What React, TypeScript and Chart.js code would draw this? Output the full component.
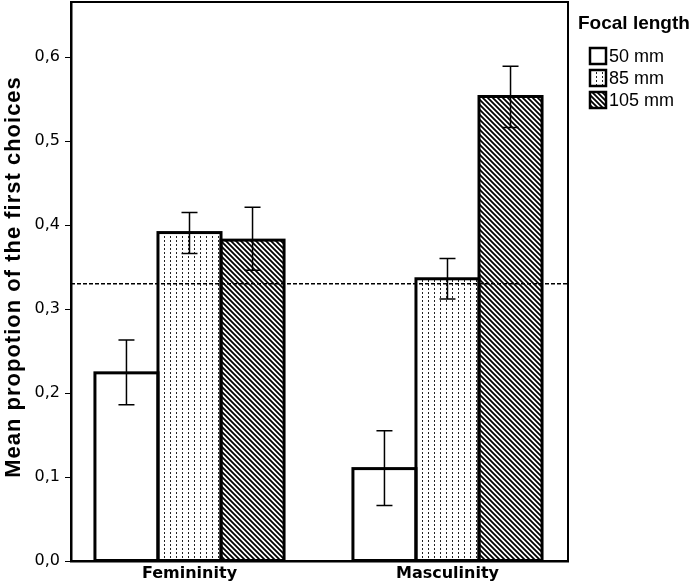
import React, { useEffect, useRef } from 'react';
import { Chart, registerables } from 'chart.js';

Chart.register(...registerables);

const categories = ['Femininity', 'Masculinity'];
const seriesNames = ['50 mm', '85 mm', '105 mm'];
const means50 = [0.224, 0.110];
const means85 = [0.391, 0.336];
const means105 = [0.382, 0.553];
const low50 = [0.186, 0.066];
const high50 = [0.263, 0.155];
const low85 = [0.366, 0.312];
const high85 = [0.415, 0.360];
const low105 = [0.346, 0.516];
const high105 = [0.421, 0.589];
const yTicks = [0, 0.1, 0.2, 0.3, 0.4, 0.5, 0.6];
const referenceLine = 0.33;
const yTitle = 'Mean propotion of the first choices';
const legendTitle = 'Focal length';

function makeDots(): CanvasPattern | string {
  const c = document.createElement('canvas');
  c.width = 6; c.height = 4;
  const g = c.getContext('2d');
  if (!g) return '#fff';
  g.fillStyle = '#fff'; g.fillRect(0, 0, 6, 4);
  g.fillStyle = '#222'; g.fillRect(2, 0, 1, 2);
  return g.createPattern(c, 'repeat') || '#fff';
}
function makeHatch(): CanvasPattern | string {
  const s = 5;
  const c = document.createElement('canvas');
  c.width = s; c.height = s;
  const g = c.getContext('2d');
  if (!g) return '#fff';
  g.fillStyle = '#fff'; g.fillRect(0, 0, s, s);
  g.strokeStyle = '#000'; g.lineWidth = 1.8;
  g.beginPath();
  g.moveTo(-1, -1); g.lineTo(s + 1, s + 1);
  g.moveTo(-1, s - 1); g.lineTo(1, s + 1);
  g.moveTo(s - 1, -1); g.lineTo(s + 1, 1);
  g.stroke();
  return g.createPattern(c, 'repeat') || '#fff';
}

export default function App() {
  const ref = useRef<HTMLCanvasElement>(null);
  useEffect(() => {
    document.body.style.margin = '0';
    const canvas = ref.current;
    if (!canvas) return;
    const fills = ['#ffffff', makeDots(), makeHatch()];
    const means = [means50, means85, means105];
    const lows = [low50, low85, low105];
    const highs = [high50, high85, high105];

    const overlay = {
      id: 'overlay',
      afterDatasetsDraw(chart: any) {
        const ctx = chart.ctx;
        const ys = chart.scales.y;
        const area = chart.chartArea;
        ctx.save();
        ctx.strokeStyle = '#000';
        ctx.lineWidth = 3;
        chart.data.datasets.forEach((_: any, i: number) => {
          const meta = chart.getDatasetMeta(i);
          meta.data.forEach((bar: any) => {
            const p = bar.getProps(['x', 'y', 'base', 'width'], true);
            ctx.strokeRect(p.x - p.width / 2, p.y, p.width, p.base - p.y);
          });
        });
        const yr = ys.getPixelForValue(referenceLine);
        ctx.lineWidth = 1.5;
        ctx.setLineDash([4, 2]);
        ctx.beginPath();
        ctx.moveTo(area.left, yr);
        ctx.lineTo(area.right, yr);
        ctx.stroke();
        ctx.setLineDash([]);
        ctx.lineWidth = 1.5;
        chart.data.datasets.forEach((_: any, i: number) => {
          const meta = chart.getDatasetMeta(i);
          meta.data.forEach((bar: any, j: number) => {
            const x = bar.x;
            const y1 = ys.getPixelForValue(lows[i][j]);
            const y2 = ys.getPixelForValue(highs[i][j]);
            ctx.beginPath();
            ctx.moveTo(x, y1); ctx.lineTo(x, y2);
            ctx.moveTo(x - 8, y1); ctx.lineTo(x + 8, y1);
            ctx.moveTo(x - 8, y2); ctx.lineTo(x + 8, y2);
            ctx.stroke();
          });
        });
        ctx.restore();
      },
      afterDraw(chart: any) {
        const ctx = chart.ctx;
        const area = chart.chartArea;
        ctx.save();
        ctx.strokeStyle = '#000';
        ctx.lineWidth = 2;
        ctx.beginPath();
        ctx.moveTo(area.left, area.top);
        ctx.lineTo(area.right, area.top);
        ctx.lineTo(area.right, area.bottom);
        ctx.stroke();
        // y axis title
        ctx.save();
        ctx.translate(14, 277);
        ctx.rotate(-Math.PI / 2);
        ctx.fillStyle = '#000';
        ctx.font = 'bold 22px "Liberation Sans"';
        (ctx as any).letterSpacing = '1px';
        ctx.textAlign = 'center';
        ctx.textBaseline = 'middle';
        ctx.fillText(yTitle, 0, 0);
        ctx.restore();
        // legend
        ctx.fillStyle = '#000';
        ctx.textBaseline = 'alphabetic';
        ctx.font = 'bold 19px "Liberation Sans"';
        ctx.fillText(legendTitle, 578, 29);
        ctx.font = '18px "Liberation Sans"';
        seriesNames.forEach((name, i) => {
          const cy = 56 + i * 22;
          ctx.fillStyle = fills[i] as any;
          ctx.fillRect(590, cy - 8, 16, 16);
          ctx.lineWidth = 2.5;
          ctx.strokeStyle = '#000';
          ctx.strokeRect(590, cy - 8, 16, 16);
          ctx.fillStyle = '#000';
          ctx.textBaseline = 'middle';
          ctx.fillText(name, 609, cy + 1);
        });
        ctx.restore();
      },
    };

    const chart = new Chart(canvas, {
      type: 'bar',
      data: {
        datasets: seriesNames.map((name, i) => ({
          label: name,
          data: categories.map((_, j) => ({ x: j, y: means[i][j] })),
          backgroundColor: fills[i] as any,
          borderWidth: 0,
          categoryPercentage: 0.733,
          barPercentage: 1,
        })),
      },
      options: {
        responsive: true,
        maintainAspectRatio: false,
        animation: false,
        layout: { padding: { left: 0, right: 126, top: 2, bottom: 0 } },
        plugins: { legend: { display: false }, tooltip: { enabled: false } },
        scales: {
          x: {
            type: 'linear',
            offset: false,
            min: -0.4593,
            max: 1.4671,
            afterBuildTicks: (s: any) => { s.ticks = categories.map((_, i) => ({ value: i })); },
            afterFit: (s: any) => { s.height = 23; s.paddingLeft = 0; s.paddingRight = 0; },
            grid: { display: false, drawTicks: false, offset: false },
            border: { display: true, color: '#000', width: 2.5 },
            ticks: {
              autoSkip: false,
              maxRotation: 0,
              padding: 3,
              color: '#000',
              font: { family: '"DejaVu Sans"', weight: 'bold', size: 16 },
              callback: (v: any) => categories[Math.round(Number(v))] ?? '',
            },
          },
          y: {
            min: 0,
            max: 0.6655,
            afterBuildTicks: (s: any) => { s.ticks = yTicks.map((v) => ({ value: v })); },
            afterFit: (s: any) => { s.width = 71; s.paddingTop = 0; s.paddingBottom = 0; },
            grid: { display: true, drawOnChartArea: false, drawTicks: true, tickLength: 6, color: '#000', lineWidth: 1 },
            border: { display: true, color: '#000', width: 2.5 },
            ticks: {
              padding: 5,
              color: '#000',
              font: { family: '"DejaVu Sans"', size: 16 },
              callback: (v: any) => Number(v).toFixed(1).replace('.', ','),
            },
          },
        },
      },
      plugins: [overlay],
    } as any);
    return () => chart.destroy();
  }, []);
  return (
    <div style={{ width: 694, height: 584, position: 'relative' }}>
      <canvas ref={ref} />
    </div>
  );
}
